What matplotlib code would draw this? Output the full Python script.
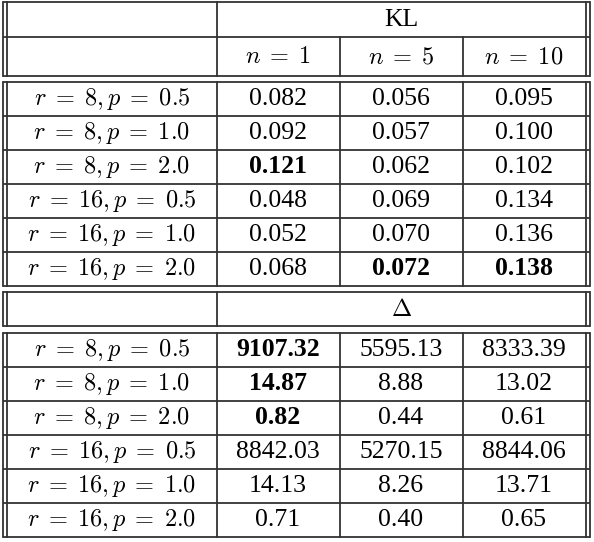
import matplotlib
matplotlib.use("Agg")
import matplotlib.pyplot as plt

plt.rcParams['mathtext.fontset'] = 'cm'
row_labels = [r"$r\;=\;8,p\;=\;0.5$", r"$r\;=\;8,p\;=\;1.0$", r"$r\;=\;8,p\;=\;2.0$",
              r"$r\;=\;16,p\;=\;0.5$", r"$r\;=\;16,p\;=\;1.0$", r"$r\;=\;16,p\;=\;2.0$"]
col_labels = [r"$n\;=\;1$", r"$n\;=\;5$", r"$n\;=\;10$"]
kl = [["0.082", "0.056", "0.095"], ["0.092", "0.057", "0.100"], ["0.121", "0.062", "0.102"],
      ["0.048", "0.069", "0.134"], ["0.052", "0.070", "0.136"], ["0.068", "0.072", "0.138"]]
kl_bold = [(2, 0), (5, 1), (5, 2)]
delta = [["9107.32", "5595.13", "8333.39"], ["14.87", "8.88", "13.02"], ["0.82", "0.44", "0.61"],
         ["8842.03", "5270.15", "8844.06"], ["14.13", "8.26", "13.71"], ["0.71", "0.40", "0.65"]]
delta_bold = [(0, 0), (1, 0), (2, 0)]

W, H = 594, 542
fig = plt.figure(figsize=(W/100, H/100), dpi=100)
ax = fig.add_axes([0, 0, 1, 1])
ax.set_xlim(0, W); ax.set_ylim(H, 0); ax.axis('off')
lw = 1.3
xs = [217, 340, 463]
xl1, xl2, xr1, xr2 = 3, 7, 586, 590
colx = [112, 278, 401, 524]
fs = 17.5

def hline(y):
    ax.plot([xl1, xr2], [y, y], color='#333', lw=lw, solid_capstyle='butt')

def vlines(y0, y1, inner):
    for x in [xl1, xl2, xr1, xr2]:
        ax.plot([x, x], [y0, y1], color='#333', lw=lw)
    for x in inner:
        ax.plot([x, x], [y0, y1], color='#333', lw=lw)

def block(y0, rows, vals, bold):
    rh = 34
    for i in range(len(rows)+1):
        hline(y0 + i*rh)
    vlines(y0, y0 + len(rows)*rh, xs)
    for i, lab in enumerate(rows):
        yc = y0 + i*rh + rh/2 + 6
        ax.text(colx[0], yc, lab, ha='center', va='baseline', fontsize=fs)
        for j, v in enumerate(vals[i]):
            ax.text(colx[j+1], yc, v, ha='center', va='baseline', fontsize=fs + 1,
                    family='Liberation Serif', weight='bold' if (i, j) in bold else 'normal')

# KL header
hline(2); hline(37); hline(76)
vlines(2, 76, [xs[0]])
for x in xs[1:]:
    ax.plot([x, x], [37, 76], color='#333', lw=lw)
ax.text((xs[0]+xr1)/2, 26, "KL", ha='center', va='baseline', fontsize=fs + 1, family='Liberation Serif')
for j, c in enumerate(col_labels):
    ax.text(colx[j+1], 63, c, ha='center', va='baseline', fontsize=fs)
block(82, row_labels, kl, kl_bold)
# Delta header
hline(292); hline(326)
vlines(292, 326, [xs[0]])
ax.text((xs[0]+xr1)/2, 316, r"$\Delta$", ha='center', va='baseline', fontsize=fs)
block(333, row_labels, delta, delta_bold)
fig.savefig("out.png", dpi=100)
